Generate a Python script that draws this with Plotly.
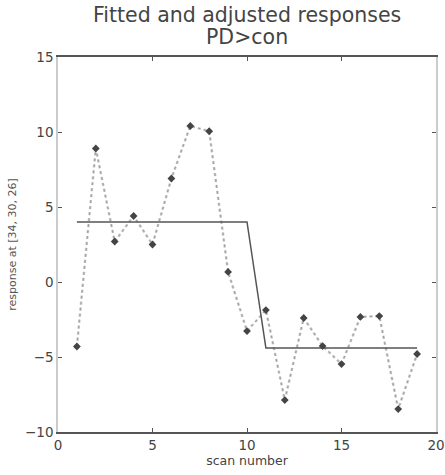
import plotly.graph_objects as go

scan = list(range(1, 20))
adjusted = [-4.3, 8.9, 2.7, 4.4, 2.5, 6.9, 10.4, 10.05, 0.67, -3.27, -1.87, -7.87,
            -2.4, -4.27, -5.47, -2.33, -2.27, -8.47, -4.8]
fitted = [4.0] * 10 + [-4.4] * 9

x_ticks = [0, 5, 10, 15, 20]
y_ticks = [-10, -5, 0, 5, 10, 15]
title_lines = ["Fitted and adjusted responses", "PD&gt;con"]

W, H = 445, 475
L, T, R, B = 58, 57, 9, 43
PH = H - T - B

fig = go.Figure()
fig.add_trace(go.Scatter(x=scan, y=adjusted, mode="lines",
                         line=dict(color="#c8c8c8", width=2.5, dash="dot"),
                         hoverinfo="skip", showlegend=False))
fig.add_trace(go.Scatter(x=scan, y=adjusted, mode="lines",
                         line=dict(color="#777777", width=1, dash="dot"),
                         opacity=0.5, hoverinfo="skip", showlegend=False))
fig.add_trace(go.Scatter(x=scan, y=fitted, mode="lines",
                         line=dict(color="#555555", width=1.5),
                         showlegend=False))
fig.add_trace(go.Scatter(x=scan, y=adjusted, mode="markers",
                         marker=dict(symbol="diamond", size=6, color="#444444"),
                         showlegend=False))

axis_common = dict(showgrid=False, zeroline=False, showline=True, mirror="ticks",
                   ticks="inside", ticklen=4, tickcolor="#555555", automargin=False,
                   tickfont=dict(family="DejaVu Sans", size=13.5, color="#444444"))

fig.update_layout(
    width=W, height=H,
    margin=dict(l=L, r=R, t=T, b=B, autoexpand=False),
    paper_bgcolor="white", plot_bgcolor="white",
    xaxis=dict(range=[0, 20], tickvals=x_ticks, linecolor="#555555", linewidth=1.5,
               title=dict(text="scan number", standoff=3,
                          font=dict(family="DejaVu Sans", size=12.5, color="#444444")),
               **axis_common),
    yaxis=dict(range=[-10, 15], tickvals=y_ticks, linecolor="#cccccc", linewidth=1.5,
               title=dict(text="response at [34, 30, 26]", standoff=6,
                          font=dict(family="DejaVu Sans", size=11, color="#555555")),
               **axis_common),
)

for txt, ypx in zip(title_lines, [15, 37]):
    fig.add_annotation(text=txt, xref="paper", yref="paper",
                       x=0.5, y=1 + (T - ypx) / PH,
                       xanchor="center", yanchor="middle", showarrow=False,
                       font=dict(family="DejaVu Sans", size=20.5, color="#444444"))

fig.write_html("out.html", config={"displayModeBar": False},
               post_script="document.body.style.margin='0';"
                           "document.body.style.overflow='hidden';")
